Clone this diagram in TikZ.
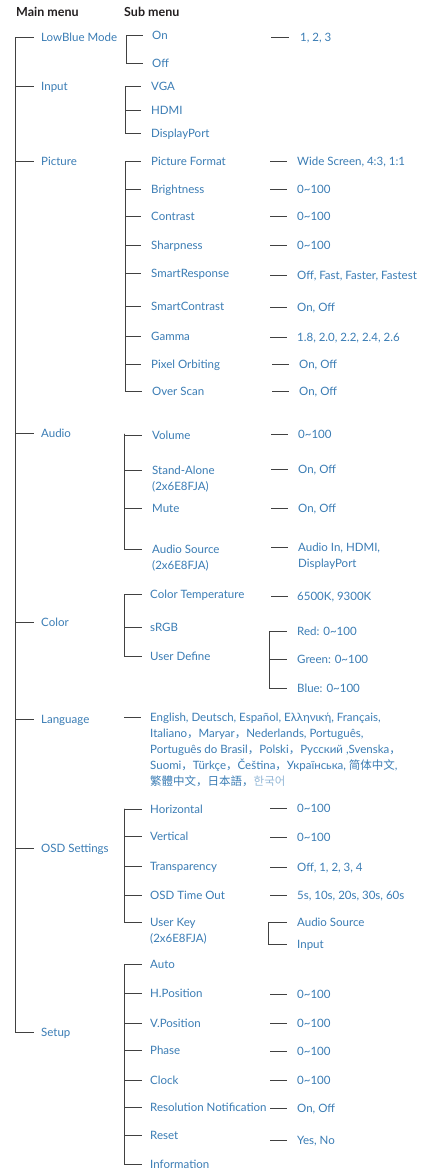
\documentclass[tikz,border=0pt]{standalone}
\usepackage{fontspec}
\setmainfont{Lato}
\newfontfamily\cjk{Noto Sans CJK SC}
\definecolor{txt}{RGB}{58,124,180}
\definecolor{hd}{RGB}{35,31,32}
\definecolor{lnc}{RGB}{65,65,65}
\tikzset{
  ln/.style={draw=lnc,line width=1pt},
  it/.style={anchor=base west,inner sep=0pt,text=txt,font=\fontsize{11.5}{16}\selectfont},
  hdr/.style={anchor=base west,inner sep=0pt,text=hd,font=\fontsize{12.5}{14}\selectfont\bfseries},
}
\newcommand\twoline[2]{\vtop{\hbox{\strut #1}\hbox{\strut #2}}}
\newcommand\cc{{\cjk ，}}
\begin{document}
\begin{tikzpicture}[x=1pt,y=-1pt]
\useasboundingbox (0,0) rectangle (425,1170);
% headers
\node[hdr] (hmain) at (16,16) {Main menu};
\node[hdr] (hsub) at (124,16) {Sub menu};
% main items
\node[it] (low) at (41,41) {LowBlue Mode};
\node[it] (inp) at (41,90) {Input};
\node[it] (pic) at (41,165) {Picture};
\node[it] (aud) at (41,437) {Audio};
\node[it] (col) at (41,626) {Color};
\node[it] (lan) at (41,723) {Language};
\node[it] (osd) at (41,852) {OSD Settings};
\node[it] (set) at (41,1036) {Setup};
\coordinate (spine) at (15,37.5);
\foreach \n in {low,inp,pic,aud,col,lan,osd,set}
  \draw[ln] (spine) |- ([xshift=-7pt,yshift=3.5pt]\n.base west);
% LowBlue
\node[it] (on) at (152,39) {On};
\node[it] (off) at (152,67) {Off};
\node[it] (v123) at (300,41) {1, 2, 3};
\coordinate (blow) at (126,37.5);
\foreach \n in {on,off}
  \draw[ln] (blow) |- ([xshift=-9pt,yshift=3.5pt]\n.base west);
\draw[ln] ([xshift=-29pt,yshift=3.5pt]v123.base west) -- ([xshift=-11pt,yshift=3.5pt]v123.base west);
% Input
\node[it] (vga) at (151,90) {VGA};
\node[it] (hdmi) at (151,114) {HDMI};
\node[it] (dp) at (151,137) {DisplayPort};
\coordinate (binp) at (125,86.5);
\foreach \n in {vga,hdmi,dp}
  \draw[ln] (binp) |- ([xshift=-10pt,yshift=3.5pt]\n.base west);
% Picture
\node[it] (pf) at (151,165) {Picture Format};
\node[it] (br) at (151,193) {Brightness};
\node[it] (ct) at (151,220) {Contrast};
\node[it] (sh) at (151,249) {Sharpness};
\node[it] (sr) at (151,277) {SmartResponse};
\node[it] (sc) at (151,310) {SmartContrast};
\node[it] (ga) at (151,340) {Gamma};
\node[it] (po) at (151,368) {Pixel Orbiting};
\node[it] (os) at (152,395) {Over Scan};
\coordinate (bpic) at (125,161.5);
\foreach \n in {pf,br,ct,sh,sr,sc,ga,po,os}
  \draw[ln] (bpic) |- ([xshift=-10pt,yshift=3.5pt]\n.base west);
\node[it] (vpf) at (297,165) {Wide Screen, 4:3, 1:1};
\node[it] (vbr) at (297,193) {0\textasciitilde 100};
\node[it] (vct) at (297,220) {0\textasciitilde 100};
\node[it] (vsh) at (297,249) {0\textasciitilde 100};
\node[it] (vsr) at (297,279) {Off, Fast, Faster, Fastest};
\node[it] (vsc) at (297,311) {On, Off};
\node[it] (vga2) at (297,341) {1.8, 2.0, 2.2, 2.4, 2.6};
\node[it] (vpo) at (299,368) {On, Off};
\node[it] (vos) at (299,395) {On, Off};
\foreach \n in {vpf,vbr,vct,vsh,vsr,vsc,vga2,vpo,vos}
  \draw[ln] ([xshift=-27pt,yshift=3.5pt]\n.base west) -- ([xshift=-10pt,yshift=3.5pt]\n.base west);
% Audio
\node[it] (vol) at (152,439) {Volume};
\node[it] (sa) at (152,474) {\twoline{Stand-Alone}{(2x6E8FJA)}};
\node[it] (mu) at (152,512) {Mute};
\node[it] (as) at (152,553) {\twoline{Audio Source}{(2x6E8FJA)}};
\coordinate (baud) at (124,433.5);
\foreach \n in {vol,sa,mu,as}
  \draw[ln] (baud) |- ([xshift=-10pt,yshift=3.5pt]\n.base west);
\node[it] (vvol) at (298,438) {0\textasciitilde 100};
\node[it] (vsa) at (298,473) {On, Off};
\node[it] (vmu) at (298,512) {On, Off};
\node[it] (vas) at (298,551) {\twoline{Audio In, HDMI,}{DisplayPort}};
\foreach \n in {vvol,vsa,vmu,vas}
  \draw[ln] ([xshift=-27pt,yshift=3.5pt]\n.base west) -- ([xshift=-10pt,yshift=3.5pt]\n.base west);
% Color
\node[it] (cte) at (150,598) {Color Temperature};
\node[it] (srgb) at (150,631) {sRGB};
\node[it] (ud) at (150,660) {User Define};
\coordinate (bcol) at (124,594.5);
\foreach \n in {cte,srgb,ud}
  \draw[ln] (bcol) |- ([xshift=-8pt,yshift=3.5pt]\n.base west);
\node[it] (vcte) at (297,600) {6500K, 9300K};
\draw[ln] ([xshift=-26pt,yshift=3.5pt]vcte.base west) -- ([xshift=-9pt,yshift=3.5pt]vcte.base west);
\node[it] (red) at (297,635) {Red: 0\textasciitilde 100};
\node[it] (grn) at (297,663) {Green: 0\textasciitilde 100};
\node[it] (blu) at (297,692) {Blue: 0\textasciitilde 100};
\coordinate (bud) at (269,631.5);
\foreach \n in {red,grn,blu}
  \draw[ln] (bud) |- ([xshift=-10pt,yshift=3.5pt]\n.base west);
% Language
\node[it] (lng) at (150,721) {\vtop{\hbox{\strut English, Deutsch, Español, Ελληνική, Français,}
  \hbox{\strut Italiano\cc Maryar\cc Nederlands, Português,}
  \hbox{\strut Português do Brasil\cc Polski\cc Русский ,Svenska\cc}
  \hbox{\strut Suomi\cc Türkçe\cc Čeština\cc Українська, {\cjk 简体中文},}
  \hbox{\strut{\cjk 繁體中文，日本語，}{\cjk\color{txt!55!white}한국어}}}};
\draw[ln] ([xshift=-26pt,yshift=3.5pt]lng.base west) -- ([xshift=-9pt,yshift=3.5pt]lng.base west);
% OSD
\node[it] (hor) at (150,813) {Horizontal};
\node[it] (ver) at (150,840) {Vertical};
\node[it] (tra) at (150,870) {Transparency};
\node[it] (oto) at (150,899) {OSD Time Out};
\node[it] (uk) at (150,926) {\twoline{User Key}{(2x6E8FJA)}};
\coordinate (bosd) at (124,808.5);
\foreach \n in {hor,ver,tra,oto,uk}
  \draw[ln] (bosd) |- ([xshift=-8pt,yshift=3.5pt]\n.base west);
\node[it] (vhor) at (297,812) {0\textasciitilde 100};
\node[it] (vver) at (297,841) {0\textasciitilde 100};
\node[it] (vtra) at (297,871) {Off, 1, 2, 3, 4};
\node[it] (voto) at (297,899) {5s, 10s, 20s, 30s, 60s};
\foreach \n in {vhor,vver,vtra,voto}
  \draw[ln] ([xshift=-27pt,yshift=3.5pt]\n.base west) -- ([xshift=-10pt,yshift=3.5pt]\n.base west);
\node[it] (uas) at (297,926) {Audio Source};
\node[it] (uin) at (297,948) {Input};
\coordinate (buk) at (268,922.5);
\foreach \n in {uas,uin}
  \draw[ln] (buk) |- ([xshift=-10pt,yshift=3.5pt]\n.base west);
% Setup
\node[it] (auto) at (150,968) {Auto};
\node[it] (hp) at (150,997) {H.Position};
\node[it] (vp) at (150,1027) {V.Position};
\node[it] (ph) at (150,1054) {Phase};
\node[it] (clk) at (150,1084) {Clock};
\node[it] (rn) at (150,1111) {Resolution Notification};
\node[it] (rst) at (150,1139) {Reset};
\node[it] (inf) at (150,1168) {Information};
\coordinate (bset) at (124,964.5);
\foreach \n in {auto,hp,vp,ph,clk,rn,rst,inf}
  \draw[ln] (bset) |- ([xshift=-8pt,yshift=3.5pt]\n.base west);
\node[it] (vhp) at (297,998) {0\textasciitilde 100};
\node[it] (vvp) at (297,1027) {0\textasciitilde 100};
\node[it] (vph) at (297,1055) {0\textasciitilde 100};
\node[it] (vclk) at (297,1084) {0\textasciitilde 100};
\node[it] (vrn) at (297,1112) {On, Off};
\node[it] (vrst) at (297,1144) {Yes, No};
\foreach \n in {vhp,vvp,vph,vclk,vrn,vrst}
  \draw[ln] ([xshift=-27pt,yshift=3.5pt]\n.base west) -- ([xshift=-10pt,yshift=3.5pt]\n.base west);
\end{tikzpicture}
\end{document}
